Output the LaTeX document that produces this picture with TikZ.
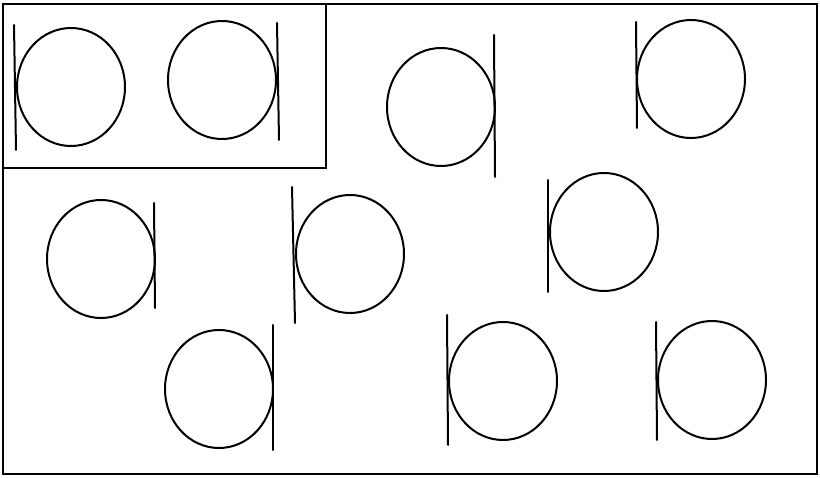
\documentclass[tikz,border=0pt]{standalone}
\usepackage{tikz}
\usetikzlibrary{shapes.geometric}
\tikzset{
  frameLine/.style={draw=black, line width=2.3pt},
  ringNode/.style={ellipse, draw=black, line width=2pt, minimum width=108pt, minimum height=118pt, inner sep=0pt},
  stemLine/.style={draw=black, line width=2pt, line cap=round}
}

\begin{document}
\begin{tikzpicture}[x=1pt, y=-1pt]
  \useasboundingbox (0,0) rectangle (820,478);

  % frames
  \draw[frameLine] (3,4) rectangle (817,474);
  \draw[frameLine] (3,4) rectangle (326,168);

  % top row
  \node[ringNode] (ringA) at (71,87) {};
  \node[ringNode] (ringB) at (222,80) {};
  \node[ringNode] (ringC) at (441,107) {};
  \node[ringNode] (ringD) at (691,79) {};
  % middle row
  \node[ringNode] (ringE) at (101,259) {};
  \node[ringNode] (ringF) at (350,254) {};
  \node[ringNode] (ringG) at (604,232) {};
  % bottom row
  \node[ringNode] (ringH) at (219,389) {};
  \node[ringNode] (ringI) at (503,381) {};
  \node[ringNode] (ringJ) at (712,380) {};

  % stems
  \draw[stemLine] ([shift={(-2,-62)}]ringA.west) -- ([shift={(0,63)}]ringA.west);
  \draw[stemLine] ([shift={(0,-57)}]ringB.east) -- ([shift={(2,60)}]ringB.east);
  \draw[stemLine] ([shift={(-2,-72)}]ringC.east) -- ([shift={(-1,70)}]ringC.east);
  \draw[stemLine] ([shift={(0,-57)}]ringD.west) -- ([shift={(1,49)}]ringD.west);
  \draw[stemLine] ([shift={(-2,-56)}]ringE.east) -- ([shift={(-1,49)}]ringE.east);
  \draw[stemLine] ([shift={(-3,-67)}]ringF.west) -- ([shift={(0,69)}]ringF.west);
  \draw[stemLine] ([shift={(-1,-52)}]ringG.west) -- ([shift={(-1,60)}]ringG.west);
  \draw[stemLine] ([shift={(-1,-64)}]ringH.east) -- ([shift={(-1,61)}]ringH.east);
  \draw[stemLine] ([shift={(-1,-66)}]ringI.west) -- ([shift={(0,64)}]ringI.west);
  \draw[stemLine] ([shift={(-1,-58)}]ringJ.west) -- ([shift={(0,60)}]ringJ.west);
\end{tikzpicture}
\end{document}
